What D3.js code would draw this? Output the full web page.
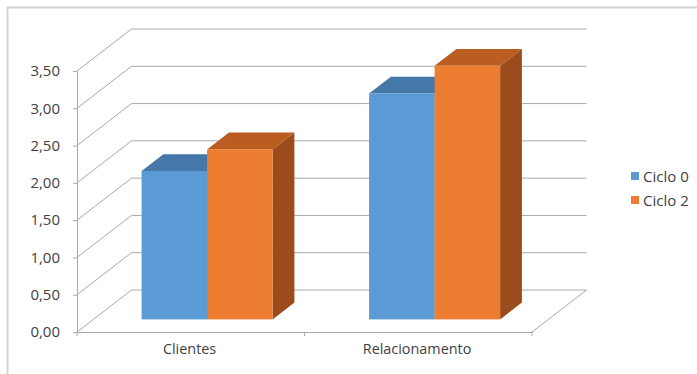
<!DOCTYPE html>
<html>
<head>
<meta charset="utf-8">
<script src="https://cdn.jsdelivr.net/npm/d3@7"></script>
<style>
  html, body { margin: 0; padding: 0; background: #fff; }
  svg { display: block; font-family: "Open Sans", "Noto Sans", sans-serif; }
</style>
</head>
<body>
<svg id="chart" width="697" height="374"></svg>
<script>
// Data
const categories = ["Clientes", "Relacionamento"];
const seriesNames = ["Ciclo 0", "Ciclo 2"];
const ciclo0 = [1.99, 3.03];
const ciclo2 = [2.28, 3.40];
const yTicks = [0, 0.5, 1, 1.5, 2, 2.5, 3, 3.5];

const seriesValues = [ciclo0, ciclo2];
const colors = {
  front: ["#5B9BD5", "#ED7D31"],
  top:   ["#4577A8", "#BA5D21"],
  side:  ["#3E6C98", "#9C4C1C"]
};

const svg = d3.select("#chart");
const W = 697, H = 374;

// Plot geometry: front plane and oblique depth offset
const plotLeft = 77, plotRight = 532, plotBottom = 332, plotTop = 71;
const depthX = 54.5, depthY = -42;
const barFront = 0.3, barBack = 0.7;   // bars sit in the middle of the depth

const y = d3.scaleLinear().domain([0, 3.5]).range([plotBottom, plotTop]);
const x0 = d3.scaleBand().domain(categories).range([plotLeft, plotRight]).padding(0);
const x1 = d3.scaleBand().domain(seriesNames).range([0, x0.bandwidth()])
  .paddingInner(0).paddingOuter(0.7366);

const grid = "#A9A9A9";
const textColor = "#3F3F3F";
const comma = d3.formatLocale({ decimal: ",", thousands: ".", grouping: [3], currency: ["", ""] }).format(".2f");

// Chart area border
svg.append("path")
  .attr("d", `M7.5,${H + 2} V7.5 H${W + 2}`)
  .attr("fill", "none").attr("stroke", "#D4D4D4").attr("stroke-width", 2);

// Back wall gridlines and side wall diagonals
const gridG = svg.append("g").attr("fill", "none").attr("stroke", grid).attr("stroke-width", 1);
yTicks.forEach(v => {
  const yf = y(v), yb = y(v) + depthY;
  gridG.append("path")
    .attr("d", `M${plotLeft},${yf} L${plotLeft + depthX},${yb} H${plotRight + depthX}`);
});
// Floor right edge
gridG.append("path")
  .attr("d", `M${plotRight},${plotBottom} L${plotRight + depthX},${plotBottom + depthY}`);

// Bars (front, top and right side faces)
const barsG = svg.append("g");
categories.forEach((cat, ci) => {
  seriesNames.forEach((s, si) => {
    const v = seriesValues[si][ci];
    const ox = depthX * barFront, oy = depthY * barFront;
    const dx = depthX * (barBack - barFront), dy = depthY * (barBack - barFront);
    const xl = x0(cat) + x1(s) + ox;
    const xr = xl + x1.bandwidth();
    const yt = y(v) + oy;
    const yb = y(0) + oy;
    const g = barsG.append("g");
    g.append("path")
      .attr("d", `M${xr},${yt} L${xr + dx},${yt + dy} V${yb + dy} L${xr},${yb} Z`)
      .attr("fill", colors.side[si]);
    g.append("path")
      .attr("d", `M${xl},${yt} L${xl + dx},${yt + dy} H${xr + dx} L${xr},${yt} Z`)
      .attr("fill", colors.top[si]);
    g.append("rect")
      .attr("x", xl).attr("y", yt)
      .attr("width", xr - xl).attr("height", yb - yt)
      .attr("fill", colors.front[si]);
  });
});

// Vertical axis
const yAxis = d3.axisLeft(y).tickValues(yTicks).tickSize(4).tickSizeOuter(0)
  .tickPadding(13).tickFormat(comma);
const yAxisG = svg.append("g").attr("transform", `translate(${plotLeft},0)`).call(yAxis);
yAxisG.select(".domain").attr("stroke", grid);
yAxisG.selectAll(".tick line").attr("stroke", grid);
yAxisG.selectAll(".tick text").attr("fill", textColor).style("font-size", "15px")
  .style("font-family", "'Open Sans', sans-serif");

// Horizontal axis: line, boundary ticks and category labels
const xAxisG = svg.append("g").attr("transform", `translate(0,${plotBottom})`)
  .call(d3.axisBottom(x0).tickSize(0).tickSizeOuter(0).tickPadding(12));
xAxisG.select(".domain").attr("stroke", grid);
xAxisG.selectAll(".tick text").attr("fill", textColor).style("font-size", "14.4px")
  .style("font-family", "'Open Sans', sans-serif")
  .attr("dx", -1.2);
const bounds = categories.map(c => x0(c)).concat([plotRight]);
xAxisG.selectAll("line.bound").data(bounds).enter().append("line")
  .attr("class", "bound")
  .attr("x1", d => d).attr("x2", d => d)
  .attr("y1", 0).attr("y2", 4)
  .attr("stroke", grid);

// Legend
const legend = svg.append("g").attr("transform", "translate(631,172)");
seriesNames.forEach((s, i) => {
  const row = legend.append("g").attr("transform", `translate(0,${i * 24})`);
  row.append("rect").attr("width", 8).attr("height", 8).attr("fill", colors.front[i]);
  row.append("text").attr("x", 12).attr("y", 9.5)
    .attr("fill", textColor).style("font-size", "15px").text(s);
});
</script>
</body>
</html>
